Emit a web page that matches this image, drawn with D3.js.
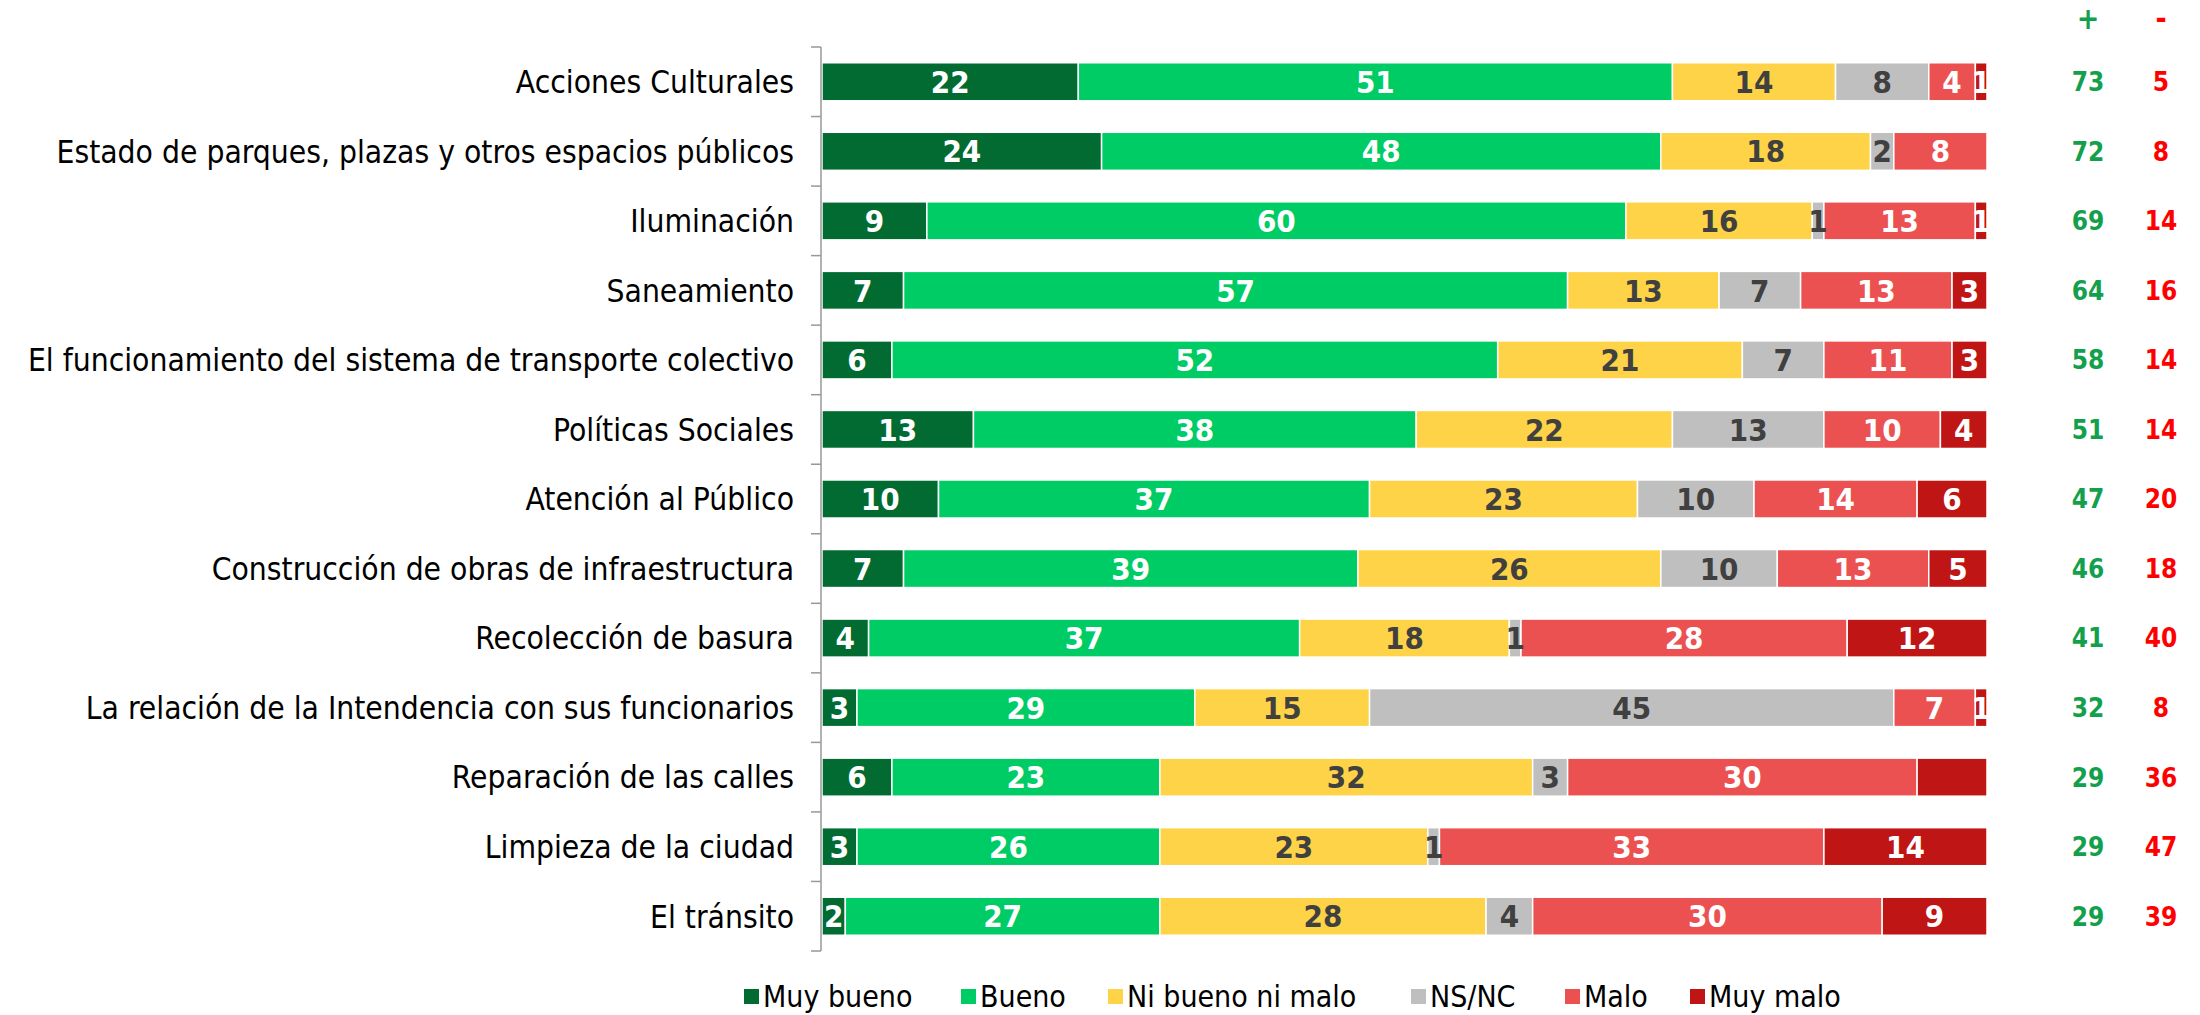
<!DOCTYPE html>
<html>
<head>
<meta charset="utf-8">
<script src="https://cdn.jsdelivr.net/npm/d3@7"></script>
<style>
  html, body { margin: 0; padding: 0; background: #fff; }
  svg { display: block; font-family: "DejaVu Sans Condensed", "DejaVu Sans", sans-serif; font-stretch: condensed; }
</style>
</head>
<body>
<div id="chart-area"></div>
<script>
// data (percent per rating)
const categories = [
  'Acciones Culturales',
  'Estado de parques, plazas y otros espacios públicos',
  'Iluminación',
  'Saneamiento',
  'El funcionamiento del sistema de transporte colectivo',
  'Políticas Sociales',
  'Atención al Público',
  'Construcción de obras de infraestructura',
  'Recolección de basura',
  'La relación de la Intendencia con sus funcionarios',
  'Reparación de las calles',
  'Limpieza de la ciudad',
  'El tránsito'
];
const seriesNames = ['Muy bueno', 'Bueno', 'Ni bueno ni malo', 'NS/NC', 'Malo', 'Muy malo'];
const muyBueno = [22, 24, 9, 7, 6, 13, 10, 7, 4, 3, 6, 3, 2];
const bueno    = [51, 48, 60, 57, 52, 38, 37, 39, 37, 29, 23, 26, 27];
const niNi     = [14, 18, 16, 13, 21, 22, 23, 26, 18, 15, 32, 23, 28];
const nsnc     = [8, 2, 1, 7, 7, 13, 10, 10, 1, 45, 3, 1, 4];
const malo     = [4, 8, 13, 13, 11, 10, 14, 13, 28, 7, 30, 33, 30];
const muyMalo  = [1, 0, 1, 3, 3, 4, 6, 5, 12, 1, 6, 14, 9];
const positivos = [73, 72, 69, 64, 58, 51, 47, 46, 41, 32, 29, 29, 29];
const negativos = [5, 8, 14, 16, 14, 14, 20, 18, 40, 8, 36, 47, 39];
// segments whose value label is not shown in the original: [row, series]
const hiddenLabels = [[10, 5]];

const colors = ['#016b32', '#00cc65', '#fed347', '#bfbfbf', '#ec5151', '#bf1515'];
const labelColors = ['#ffffff', '#ffffff', '#404040', '#404040', '#ffffff', '#ffffff'];

(() => {
  const W = 2200, H = 1015;
  const svg = d3.select('#chart-area').append('svg')
    .attr('width', W)
    .attr('height', H);

  const seriesValues = [muyBueno, bueno, niNi, nsnc, malo, muyMalo];
  const rows = categories.map((c, i) => {
    const r = { cat: c, idx: i };
    seriesNames.forEach((s, j) => { r[s] = seriesValues[j][i]; });
    return r;
  });

  const stacked = d3.stack().keys(seriesNames)(rows);

  const x = d3.scaleLinear().domain([0, 100]).range([822, 1987]);
  const y = d3.scaleBand().domain(categories).range([47, 951])
    .paddingInner(0.453).paddingOuter(0.2265);

  // bars
  const layers = svg.append('g').selectAll('g')
    .data(stacked)
    .join('g')
      .attr('fill', (d, i) => colors[i]);

  layers.selectAll('rect')
    .data(d => d)
    .join('rect')
      .attr('x', d => x(d[0]))
      .attr('y', d => y(d.data.cat))
      .attr('width', d => Math.max(0, x(d[1]) - x(d[0])))
      .attr('height', y.bandwidth())
      .attr('stroke', '#fff')
      .attr('stroke-width', 1.5);

  // value labels inside segments
  const isHidden = (r, s) => hiddenLabels.some(h => h[0] === r && h[1] === s);
  stacked.forEach((layer, s) => {
    svg.append('g').selectAll('text')
      .data(layer.filter(d => d[1] - d[0] > 0 && !isHidden(d.data.idx, s)))
      .join('text')
        .attr('x', d => (x(d[0]) + x(d[1])) / 2)
        .attr('y', d => y(d.data.cat) + y.bandwidth() / 2)
        .attr('dy', '0.36em')
        .attr('text-anchor', 'middle')
        .attr('font-size', 31)
        .attr('font-weight', 'bold')
        .attr('fill', labelColors[s])
        .text(d => d[1] - d[0]);
  });

  // category axis
  const step = y.step();
  const gap = step * y.paddingInner() / 2;
  const axisX = 821;
  const ax = svg.append('g').attr('stroke', '#999').attr('stroke-width', 1.5);
  ax.append('line')
    .attr('x1', axisX).attr('x2', axisX)
    .attr('y1', y(categories[0]) - gap)
    .attr('y2', y(categories[categories.length - 1]) + y.bandwidth() + gap);
  const tickYs = categories.map(c => y(c) - gap)
    .concat([y(categories[categories.length - 1]) + y.bandwidth() + gap]);
  ax.selectAll('line.tick')
    .data(tickYs)
    .join('line')
      .attr('class', 'tick')
      .attr('x1', axisX - 10).attr('x2', axisX)
      .attr('y1', d => d).attr('y2', d => d);

  svg.append('g').selectAll('text')
    .data(categories)
    .join('text')
      .attr('x', 794)
      .attr('y', d => y(d) + y.bandwidth() / 2)
      .attr('dy', '0.36em')
      .attr('text-anchor', 'end')
      .attr('font-size', 31.5)
      .attr('fill', '#000')
      .text(d => d);

  // + / - columns
  const colPos = 2088, colNeg = 2161;
  svg.append('text').attr('x', colPos).attr('y', 18).attr('dy', '0.36em')
    .attr('text-anchor', 'middle').attr('font-size', 30).attr('font-weight', 'bold')
    .attr('fill', '#13a04c').text('+');
  svg.append('text').attr('x', colNeg).attr('y', 18).attr('dy', '0.36em')
    .attr('text-anchor', 'middle').attr('font-size', 30).attr('font-weight', 'bold')
    .attr('fill', '#ff0000').text('-');

  svg.append('g').selectAll('text')
    .data(positivos)
    .join('text')
      .attr('x', colPos)
      .attr('y', (d, i) => y(categories[i]) + y.bandwidth() / 2)
      .attr('dy', '0.36em')
      .attr('text-anchor', 'middle')
      .attr('font-size', 26)
      .attr('font-weight', 'bold')
      .attr('fill', '#13a04c')
      .text(d => d);

  svg.append('g').selectAll('text')
    .data(negativos)
    .join('text')
      .attr('x', colNeg)
      .attr('y', (d, i) => y(categories[i]) + y.bandwidth() / 2)
      .attr('dy', '0.36em')
      .attr('text-anchor', 'middle')
      .attr('font-size', 26)
      .attr('font-weight', 'bold')
      .attr('fill', '#ff0000')
      .text(d => d);

  // legend
  const legendX = [744, 961, 1108, 1411, 1565, 1690];
  const lg = svg.append('g').selectAll('g')
    .data(seriesNames)
    .join('g')
      .attr('transform', (d, i) => `translate(${legendX[i]}, 996)`);
  lg.append('rect')
    .attr('x', 0).attr('y', -7)
    .attr('width', 15).attr('height', 15)
    .attr('fill', (d, i) => colors[i]);
  lg.append('text')
    .attr('x', 19)
    .attr('dy', '0.36em')
    .attr('font-size', 30)
    .attr('fill', '#000')
    .text(d => d);
})();
</script>
</body>
</html>
